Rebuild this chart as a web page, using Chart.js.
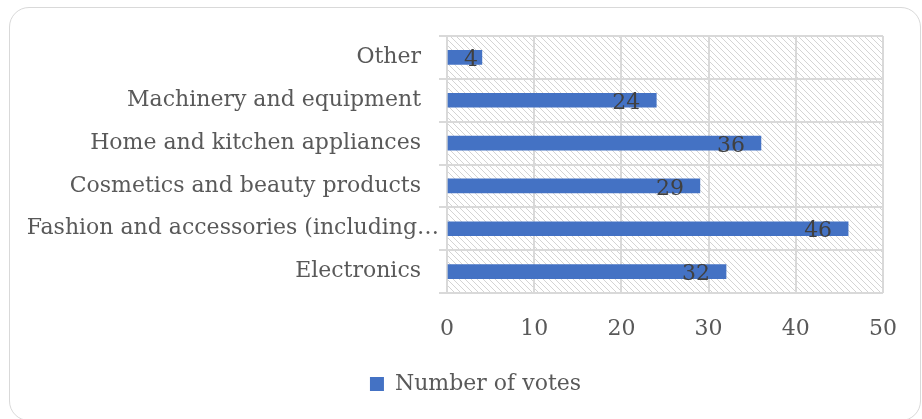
<!DOCTYPE html>
<html>
<head>
<meta charset="utf-8">
<script src="https://cdn.jsdelivr.net/npm/chart.js@4.4.1/dist/chart.umd.min.js"></script>
<style>
html,body{margin:0;padding:0;background:#fff;overflow:hidden;}
#wrap{position:relative;width:922px;height:419px;overflow:hidden;}
#frame{position:absolute;left:9px;top:7px;width:912px;height:414px;border:1.5px solid #d9d9d9;border-radius:20px;box-sizing:border-box;}
canvas{position:absolute;left:0;top:0;}
</style>
</head>
<body>
<div id="wrap">
<div id="frame"></div>
<canvas id="c" width="922" height="419"></canvas>
</div>
<script>
const categories = ["Other", "Machinery and equipment", "Home and kitchen appliances", "Cosmetics and beauty products", "Fashion and accessories (including\u2026", "Electronics"];
const votes = [4, 24, 36, 29, 46, 32];
const seriesName = "Number of votes";
const xTicks = [0, 10, 20, 30, 40, 50];

const FONT = "'DejaVu Serif', 'Liberation Serif', serif";

function makeHatch() {
  const s = 6;
  const p = document.createElement('canvas');
  p.width = s; p.height = s;
  const g = p.getContext('2d');
  g.fillStyle = '#ffffff';
  g.fillRect(0, 0, s, s);
  g.strokeStyle = '#d4d4d4';
  g.lineWidth = 1;
  g.beginPath();
  g.moveTo(-2, -2); g.lineTo(s + 2, s + 2);
  g.moveTo(-2 - s, -2); g.lineTo(2, s + 2);
  g.moveTo(s - 2, -2); g.lineTo(2 * s + 2, s + 2);
  g.stroke();
  return p;
}

const hatchPlugin = {
  id: 'hatch',
  beforeDraw(chart) {
    const {ctx, chartArea: a} = chart;
    ctx.save();
    ctx.fillStyle = ctx.createPattern(makeHatch(), 'repeat');
    ctx.fillRect(a.left, a.top, a.right - a.left, a.bottom - a.top);
    ctx.restore();
  }
};

const legendShift = {
  id: 'legendShift',
  afterLayout(chart) {
    if (chart.legend) {
      chart.legend.left += 34;
      chart.legend.right += 34;
    }
  }
};

// The truncated (ellipsis) category label overhangs toward the axis, as in the original
const overhang = {
  id: 'overhang',
  beforeDraw(chart) {
    const items = chart.scales.y.getLabelItems();
    items.forEach(it => {
      if (typeof it.label === 'string' && it.label.endsWith('\u2026') && !it._shifted) {
        it.options.translation[0] += 18;
        it._shifted = true;
      }
    });
  }
};

const labelPlugin = {
  id: 'valueLabels',
  afterDatasetsDraw(chart) {
    const {ctx} = chart;
    const meta = chart.getDatasetMeta(0);
    ctx.save();
    ctx.font = "22px " + FONT;
    ctx.fillStyle = '#404040';
    ctx.textAlign = 'left';
    ctx.textBaseline = 'middle';
    meta.data.forEach((bar, i) => {
      const txt = String(votes[i]);
      const w = ctx.measureText(txt).width;
      const left = Math.max(bar.x - 16 - w, bar.base + 16);
      ctx.fillText(txt, left, bar.y + 3);
    });
    ctx.restore();
  }
};

new Chart(document.getElementById('c'), {
  type: 'bar',
  data: {
    labels: categories,
    datasets: [{
      label: seriesName,
      data: votes,
      backgroundColor: '#4472C4',
      borderWidth: 0,
      barThickness: 14
    }]
  },
  options: {
    indexAxis: 'y',
    responsive: false,
    animation: false,
    devicePixelRatio: 1,
    layout: { padding: { left: 0, right: 39, top: 36, bottom: 14 } },
    scales: {
      x: {
        min: 0, max: 50,
        afterBuildTicks(scale) { scale.ticks = xTicks.map(v => ({value: v})); },
        grid: { color: '#d9d9d9', lineWidth: 2, drawTicks: false },
        border: { display: false },
        ticks: { color: '#595959', font: { family: FONT, size: 22 }, padding: 23 },
        afterFit(scale) { scale.height = 66; }
      },
      y: {
        grid: { color: '#d9d9d9', lineWidth: 2, offset: true, tickLength: 8, drawTicks: true },
        border: { display: true, color: '#d9d9d9', width: 2 },
        ticks: { color: '#595959', font: { family: FONT, size: 22 }, padding: 18 },
        afterFit(scale) { scale.width = 447; }
      }
    },
    plugins: {
      legend: {
        position: 'bottom',
        labels: {
          color: '#595959',
          font: { family: FONT, size: 22 },
          boxWidth: 14, boxHeight: 14, padding: 14
        }
      },
      tooltip: { enabled: false }
    }
  },
  plugins: [hatchPlugin, labelPlugin, legendShift, overhang]
});
</script>
</body>
</html>
